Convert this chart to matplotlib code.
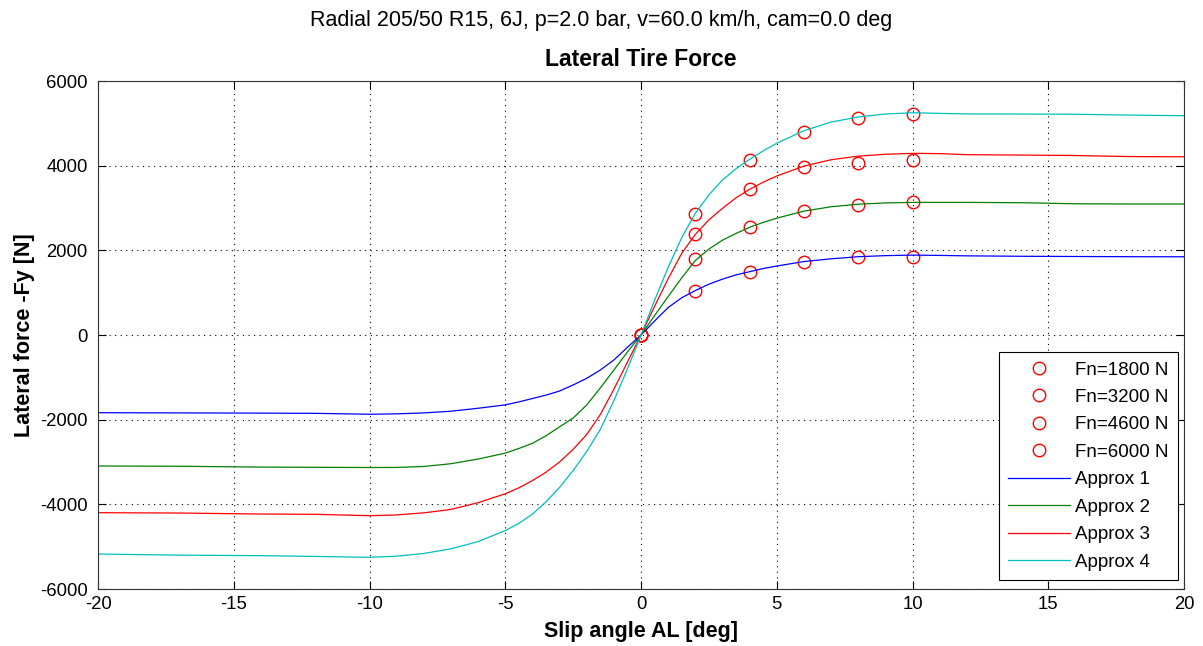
import numpy as np
import matplotlib
matplotlib.use('Agg')
import matplotlib.pyplot as plt

plt.rcParams['font.family'] = ['Liberation Sans', 'DejaVu Sans']
plt.rcParams['axes.unicode_minus'] = False

# slip angle grid of the fitted curves [deg]
alpha = [-20, -17, -14, -12, -10, -9, -8, -7, -6, -5, -4.5, -4, -3.5, -3, -2.5, -2, -1.5, -1, -0.5,
         0, 0.5, 1, 1.5, 2, 2.5, 3, 3.5, 4, 4.5, 5, 6, 7, 8, 9, 10, 11, 12, 14, 16, 18, 20]

approx1 = [-1835, -1840, -1845, -1850, -1872, -1862, -1840, -1800, -1730, -1650, -1580, -1500, -1420, -1323, -1180, -1023, -827, -590, -290,
           0, 330, 650, 880, 1050, 1200, 1320, 1420, 1496, 1570, 1630, 1735, 1800, 1850, 1875, 1888, 1880, 1870, 1860, 1855, 1850, 1848]
approx2 = [-3094, -3100, -3120, -3125, -3130, -3128, -3105, -3040, -2930, -2790, -2680, -2558, -2380, -2170, -1960, -1653, -1250, -827, -400,
           0, 460, 910, 1350, 1760, 2030, 2240, 2400, 2545, 2660, 2760, 2925, 3030, 3090, 3120, 3133, 3133, 3133, 3125, 3100, 3095, 3094]
approx3 = [-4197, -4205, -4229, -4235, -4268, -4250, -4200, -4120, -3960, -3750, -3610, -3440, -3240, -3000, -2700, -2350, -1880, -1280, -640,
           0, 680, 1330, 1930, 2377, 2720, 2992, 3240, 3441, 3610, 3756, 3990, 4140, 4225, 4270, 4291, 4285, 4260, 4250, 4240, 4215, 4210]
approx4 = [-5173, -5200, -5212, -5230, -5251, -5225, -5160, -5050, -4880, -4620, -4450, -4230, -3940, -3600, -3200, -2750, -2230, -1550, -800,
           0, 820, 1600, 2300, 2874, 3310, 3661, 3930, 4150, 4350, 4530, 4826, 5030, 5150, 5220, 5251, 5235, 5222, 5220, 5215, 5195, 5180]

# measured points
alpha_meas = [0, 2, 4, 6, 8, 10]
fn_1800 = [0, 1039, 1496, 1732, 1835, 1850]
fn_3200 = [0, 1787, 2558, 2936, 3071, 3133]
fn_4600 = [0, 2377, 3448, 3976, 4071, 4134]
fn_6000 = [0, 2858, 4134, 4787, 5117, 5220]

fig = plt.figure(figsize=(12.03, 6.46), dpi=100)
ax = fig.add_axes([0.0815, 0.0882, 0.9027, 0.7864])

for lab, fy in [('Fn=1800 N', fn_1800), ('Fn=3200 N', fn_3200),
                ('Fn=4600 N', fn_4600), ('Fn=6000 N', fn_6000)]:
    ax.plot(alpha_meas, fy, 'o', mfc='none', mec='red', ms=9, mew=1.0, label=lab)

cols = [(0, 0, 1), (0, 0.5, 0), (1, 0, 0), (0, 0.75, 0.75)]
for i, fy in enumerate([approx1, approx2, approx3, approx4]):
    ax.plot(alpha, fy, '-', color=cols[i], lw=0.9, label='Approx %d' % (i + 1))

ax.set_xlim(-20, 20)
ax.set_ylim(-6000, 6000)
ax.set_xticks(np.arange(-20, 21, 5))
ax.set_yticks(np.arange(-6000, 6001, 2000))
ax.grid(True, linestyle=(0, (1, 4)), color='black', lw=0.8)
ax.tick_params(direction='in', top=True, right=True, length=6, labelsize=13.3)
ax.tick_params(axis='x', pad=5)
ax.tick_params(axis='y', pad=7.5)
for s in ax.spines.values():
    s.set_linewidth(0.8)
    s.set_color('#333333')

ax.set_xlabel('Slip angle AL [deg]', fontsize=15.5, fontweight='bold')
ax.set_ylabel('Lateral force -Fy [N]', fontsize=15.5, fontweight='bold')
ax.xaxis.set_label_coords(0.5, -0.062)
ax.yaxis.set_label_coords(-0.058, 0.5)
ax.set_title('Lateral Tire Force', fontsize=16.5, fontweight='bold', pad=11)
fig.text(0.5, 0.969, 'Radial 205/50 R15, 6J, p=2.0 bar, v=60.0 km/h, cam=0.0 deg',
         ha='center', va='center', fontsize=15.5)

leg = ax.legend(loc='lower right', bbox_to_anchor=(0.9945, 0.0177), fontsize=13.5,
                numpoints=1, handlelength=3.3, fancybox=False, framealpha=1,
                edgecolor='black', borderaxespad=0, borderpad=0.5,
                labelspacing=0.55, handletextpad=0.27)
leg.get_frame().set_linewidth(0.8)

fig.savefig('out.png', dpi=100, facecolor='white')
